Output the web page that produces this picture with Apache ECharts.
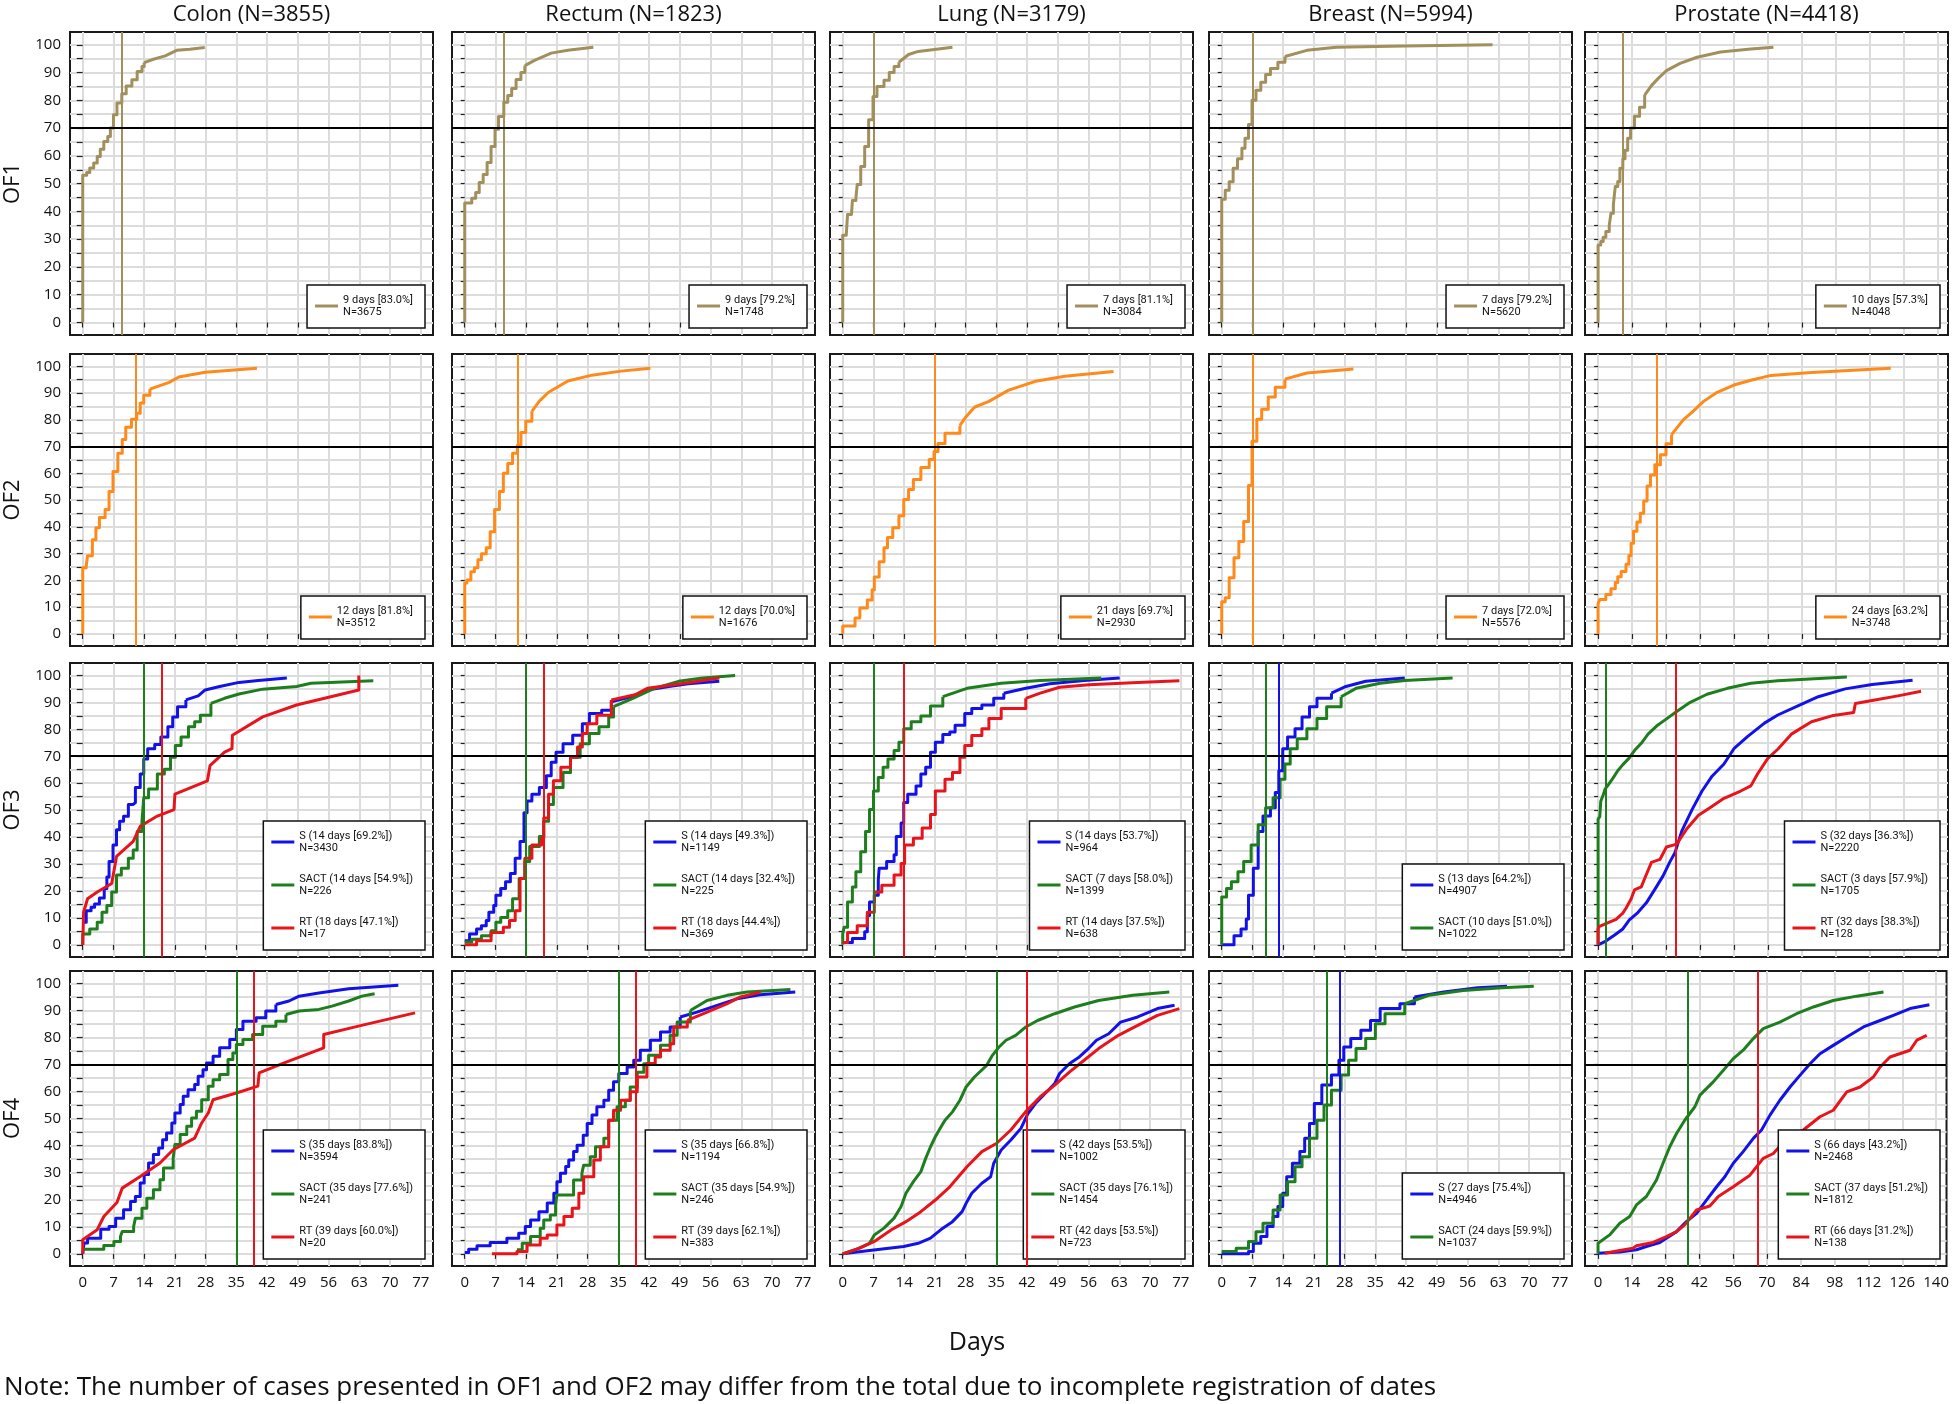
<!DOCTYPE html>
<html><head><meta charset="utf-8">
<script src="https://cdn.jsdelivr.net/npm/echarts@6/dist/echarts.min.js"></script>
<style>html,body{margin:0;padding:0;background:#fff}#c{width:1952px;height:1404px}</style>
</head><body><div id="c"></div>
<script>
// ---------- labels / ticks ----------
const columnTitles = ['Colon (N=3855)', 'Rectum (N=1823)', 'Lung (N=3179)', 'Breast (N=5994)', 'Prostate (N=4418)'];
const rowTitles = ['OF1', 'OF2', 'OF3', 'OF4'];
const xTicksWeeks = [0, 7, 14, 21, 28, 35, 42, 49, 56, 63, 70, 77];
const xTicksProstate = [0, 14, 28, 42, 56, 70, 84, 98, 112, 126, 140];
const yLabelTicks = [0, 10, 20, 30, 40, 50, 60, 70, 80, 90, 100];
const yGridTicks = [0, 5, 10, 15, 20, 25, 30, 35, 40, 45, 50, 55, 60, 65, 70, 75, 80, 85, 90, 95, 100];
const targetPct = 70;
const xAxisTitle = 'Days';
const noteText = 'Note: The number of cases presented in OF1 and OF2 may differ from the total due to incomplete registration of dates';

// ---------- OF1 ----------
const colon_OF1 = [[0,0],[0,53],[0.9,54],[1.6,55.6],[2.5,57.4],[3.3,59.8],[4,62.4],[4.8,65.2],[5.7,67],[6.3,70],[7,74.8],[7.8,79],[8.9,82.4],[9.9,85.2],[11.2,87.4],[12.4,90.4],[13.5,92.2],[14,93.6],[16.1,94.8],[18.8,96],[21.4,98],[24.4,98.4],[27.8,99]];
const rectum_OF1 = [[0,0],[0,43],[1.6,44.7],[2.5,46.8],[3.3,50.4],[4.2,53.3],[5.1,57.6],[6,63.4],[6.9,69.6],[7.7,74.2],[8.9,79.3],[9.8,81.7],[10.7,84.3],[11.7,87.5],[12.8,90],[13.7,92.5],[15.9,94.4],[19.7,97],[23.5,98],[29.3,99.1]];
const lung_OF1 = [[0,0],[0,31.4],[0.8,32],[1.1,38.9],[2,39.6],[2.2,43.9],[3,44.7],[3.3,49.7],[4.1,56.2],[5,63.4],[5.9,73],[6.9,81.4],[7.8,85],[9.4,87.2],[10.6,90],[11.7,92.2],[12.8,93.7],[15,96.5],[17.2,97.6],[25,99.1]];
const breast_OF1 = [[0,0],[0,44.4],[0.8,47.6],[1.7,50.7],[2.6,55.5],[3.6,59],[4.6,62.7],[5.3,66.3],[6.1,71.3],[6.9,80],[7.8,83.6],[8.9,86.5],[10,89.3],[11.1,91.5],[12.8,93.7],[14.4,95.8],[19.4,98],[26.1,99.1],[41.7,99.6],[61.7,100]];
const prostate_OF1 = [[0,0],[0,27.9],[1.1,29.2],[2.1,30.7],[3.2,32.8],[4.6,35],[5.3,39.3],[6.3,42.5],[7.1,49],[8.1,50.8],[9,55.5],[10.2,59],[11.1,62],[12.2,66.3],[13.4,70],[15,74.3],[17.1,77.5],[19.2,81.9],[22,85.3],[24.8,87.9],[28.2,90.7],[33.8,93.3],[40.8,95.5],[50.5,97.4],[63,98.5],[72.3,99.1]];
const OF1_markers = [9, 9, 7, 7, 10];
const OF1_legend = ['9 days [83.0%]\nN=3675', '9 days [79.2%]\nN=1748', '7 days [81.1%]\nN=3084', '7 days [79.2%]\nN=5620', '10 days [57.3%]\nN=4048'];

// ---------- OF2 ----------
const colon_OF2 = [[0,0],[0,24.7],[0.8,25.5],[1.1,29.2],[2.2,35.2],[3,39.7],[3.8,43.5],[5.1,46.5],[6,53.2],[6.9,60.7],[8,67.5],[9,72.7],[9.8,77.2],[11.1,80.2],[12.3,82.5],[13.1,86.3],[13.9,89.2],[15.3,91.5],[19.7,94],[21.9,96],[27.9,97.8],[39.7,99.3]];
const rectum_OF2 = [[0,0],[0,19],[0.5,20.2],[1.4,23.2],[2.2,24.7],[3,27.7],[3.8,30],[4.9,32.2],[5.8,38.2],[6.8,46.5],[7.9,53.2],[8.8,60],[9.8,63.7],[10.9,67.5],[12,70.5],[12.8,75.3],[13.9,79.5],[15.3,83.2],[17,87],[19.1,90.3],[23.5,94.5],[29,96.7],[35.6,98.2],[42.3,99.3]];
const lung_OF2 = [[0,0],[0,3],[2.8,6],[3.9,9.7],[5.6,12.7],[6.7,16.5],[7.2,21.3],[8.3,27],[9.4,32.2],[10.2,36],[11.4,39.7],[12.8,44.2],[13.9,50.2],[15,54],[16.1,57.7],[17.8,62.2],[19.7,65.2],[20.8,68.2],[21.7,71.2],[23.3,75],[26.7,77.9],[28.1,81.2],[30,84.7],[33.3,86.9],[37.8,91.1],[43.9,94.4],[50.6,96.3],[61.7,98.1]];
const breast_OF2 = [[0,0],[0,12],[0.8,13.5],[1.7,21],[2.8,28.5],[3.9,34.5],[5,42],[6.1,55.5],[6.9,72],[8,80.2],[9.1,84],[10.6,88.5],[12.2,92.2],[14.4,95.2],[19.4,97.5],[30,99]];
const prostate_OF2 = [[0,0],[0,11.3],[0.7,12.9],[3.2,14.7],[5.3,16.9],[7.1,19.2],[8.1,21.4],[9.5,23.3],[11.5,26],[12.7,29.3],[13.6,33.9],[14.6,38.4],[16,41.8],[17.4,45.1],[18.8,49.7],[20.2,55.3],[21.6,59.4],[23.4,63.2],[25.7,67],[28,71.1],[30.3,74.5],[35.2,80.1],[38.7,82.8],[43.5,86.9],[49.1,90.3],[56,93],[63,94.8],[71.3,96.6],[88,97.7],[120.7,99.3]];
const OF2_markers = [12, 12, 21, 7, 24];
const OF2_legend = ['12 days [81.8%]\nN=3512', '12 days [70.0%]\nN=1676', '21 days [69.7%]\nN=2930', '7 days [72.0%]\nN=5576', '24 days [63.2%]\nN=3748'];

// ---------- OF3 ----------
const colon_OF3_S = [[0.3,8.4],[0.8,12.7],[1.9,14],[2.7,15.2],[3.8,17.4],[4.9,20.9],[5.5,25.2],[6,30.9],[6.9,37.1],[7.7,42.7],[8.4,45.9],[9.3,47.7],[10.4,52.1],[11.5,52.8],[12,58.4],[13.1,63.4],[13.9,69],[14.8,72.8],[16.4,74.4],[17.8,77.1],[19.4,80.9],[20.5,84.6],[21.6,88.4],[23.5,90.9],[26.3,92.4],[27.9,94.6],[31.2,95.9],[35.6,97.4],[40,98.1],[46.5,99]];
const colon_OF3_SACT = [[0,0],[0,4],[1.6,5.9],[3.3,8.4],[4.4,12.1],[5.5,14.6],[6.6,19.6],[7.7,25.9],[8.8,28.4],[10.4,32.1],[11.5,35.2],[12.4,42.1],[13.5,45.9],[13.9,54.6],[15,57.8],[17,63.4],[18.6,65.2],[20,69.6],[21.1,74],[22.4,77.1],[24.1,80.9],[25.5,82.8],[26.8,85.2],[29.2,89.6],[32.3,91.5],[35.6,93.1],[41,94.9],[48.7,95.9],[52,97.1],[66.2,98]];
const colon_OF3_RT = [[0,0],[0.2,12.1],[1.1,17.1],[3.3,19.6],[6.6,22.8],[7.7,32.8],[11.5,38.4],[13.1,44],[17,47.8],[20.8,50.2],[21,55.9],[28.4,60.9],[29,66.5],[32.3,71.5],[34,72.8],[34.1,77.8],[41,84.6],[48.7,89],[62.9,94.6],[62.9,100]];
const colon_OF3_markers = [14, 14, 18];
const colon_OF3_legend = ['S (14 days [69.2%])\nN=3430', 'SACT (14 days [54.9%])\nN=226', 'RT (18 days [47.1%])\nN=17'];

const rectum_OF3_S = [[0,1.5],[1.1,4],[2.7,5.9],[3.8,7.1],[4.9,9],[5.5,12.1],[6.6,14.6],[7.1,18.4],[8.2,20.9],[9.3,23.4],[10.4,26.5],[11.5,32.1],[12.6,38.4],[13.5,49],[14.2,53.4],[15.3,55.9],[17,58.4],[18.6,62.8],[19.7,67.8],[20.8,71.5],[22.4,74.6],[24.6,77.8],[26.8,82.1],[28.4,85.9],[31.2,87.1],[33.4,90.2],[38.8,92.4],[41.6,94.6],[46.5,95.9],[50.9,96.9],[58,97.8]];
const rectum_OF3_SACT = [[0,1.1],[1.6,2.1],[3.8,3.4],[6,5.2],[7.1,8.4],[8.2,10.2],[9.8,12.7],[10.9,17.1],[12.4,24.6],[13.7,30.9],[14.8,36.5],[17,40.2],[18,45.9],[19.1,52.1],[20.2,58.4],[22.4,64],[24.1,69.6],[26.3,74.6],[28.4,78.4],[30.6,80.9],[32.8,84.6],[33.9,88.4],[38.3,91.5],[43.2,95.2],[48.7,97.8],[54.2,99],[61.6,100]];
const rectum_OF3_RT = [[0,0],[2.7,1.5],[6,4.6],[8.8,6.5],[10.2,9],[11.5,12.7],[12.6,24.6],[13.7,32.1],[15.3,37.1],[17.5,39.6],[18,47.1],[19.1,55.9],[20.2,60.9],[21.9,65.9],[24.1,69.6],[25.7,73.4],[26.8,78.4],[27.9,82.1],[30.1,85.2],[33.4,90.9],[38.8,92.8],[41.6,95.2],[47.6,96.5],[53.1,97.8],[58,99]];
const rectum_OF3_markers = [14, 14, 18];
const rectum_OF3_legend = ['S (14 days [49.3%])\nN=1149', 'SACT (14 days [32.4%])\nN=225', 'RT (18 days [44.4%])\nN=369'];

const lung_OF3_S = [[0,0.9],[2.2,2.4],[5,4.9],[5.6,10.9],[6.1,15.9],[7.2,18.4],[8.1,24],[8.3,28.4],[10,30.9],[11.7,33.4],[12.2,40.2],[13.3,45.2],[13.9,52.8],[14.8,55.9],[16.7,59],[17.8,63.4],[18.9,65.9],[20,71.5],[21.1,75.2],[22.8,78.1],[24.4,79],[25.6,81.5],[27.8,85.9],[29.4,87.7],[31.7,89],[34.4,91.5],[36.7,93.4],[41.7,95.2],[47.2,96.9],[55,98.1],[63.1,99]];
const lung_OF3_SACT = [[0,0],[0,4],[0.3,6.5],[1.1,15.9],[2.2,21.5],[3,27.1],[4.1,34.6],[5.2,42.1],[6.1,50.2],[7,57.1],[8.1,62.1],[9.2,65.9],[10.3,69],[11.7,72.1],[12.8,75.2],[13.9,80.2],[15.6,82.8],[17.8,84.9],[20,88.6],[22.8,92.1],[28.3,95.2],[36.1,97.1],[45,98.1],[58.9,99]];
const lung_OF3_RT = [[0,0.9],[1.1,4.6],[3.3,7.1],[5.6,12.1],[7.2,19.6],[8.9,22.1],[11.7,25.9],[13.3,30.2],[14.1,37.1],[16.1,39.6],[18.1,43.4],[20,48.4],[21.1,57.1],[23.3,61.5],[25,64],[26.7,69.6],[27.8,74],[29.4,77.7],[31.7,80.2],[33.3,84],[36.1,87.7],[41.7,91.5],[45,93.4],[49.4,95.6],[56.1,96.5],[67.2,97.4],[76.7,98]];
const lung_OF3_markers = [14, 7, 14];
const lung_OF3_legend = ['S (14 days [53.7%])\nN=964', 'SACT (7 days [58.0%])\nN=1399', 'RT (14 days [37.5%])\nN=638'];

const breast_OF3_S = [[0,0],[2.8,3.4],[4.4,5.9],[5.6,9.6],[6.1,18.4],[7.2,28.4],[8.3,42.1],[9.4,47.8],[11.1,50.9],[12.2,56.5],[13,64.6],[13.9,72.8],[15,77.1],[16.7,80.2],[18.3,84.6],[20,88.4],[21.7,91.5],[25,93.4],[28.3,95.9],[32.8,97.8],[41.7,99]];
const breast_OF3_SACT = [[0,0],[0,17.8],[1.1,20.9],[2.2,23.4],[3.7,27.1],[5,30.9],[6.7,37.1],[8.3,44.6],[10,50.9],[11.7,54.6],[13.3,61.5],[14.4,67.1],[15.6,72.8],[17.2,76.5],[19.4,80.2],[21.7,84],[23.9,88.4],[27.2,92.1],[30.6,95.2],[36.1,97.1],[41.7,98.1],[52.6,99]];
const breast_OF3_markers = [13, 10];
const breast_OF3_legend = ['S (13 days [64.2%])\nN=4907', 'SACT (10 days [51.0%])\nN=1022'];

const prostate_OF3_S = [[0,0],[3.2,1.4],[6.7,3.6],[10.2,5.9],[12.9,9.3],[16.4,12],[19.9,15.6],[23.4,20.6],[26.8,25.6],[29.6,30.8],[31.7,34.2],[34.5,42.2],[38.7,50.1],[42.8,57],[47,62.6],[51.9,67.1],[56,72.8],[61.6,77.3],[68.6,82.3],[74.1,85.3],[82.4,88.7],[90.8,92.1],[101.9,95],[113,96.6],[129.7,98.2]];
const prostate_OF3_SACT = [[0,0],[0,46.7],[0.7,47.6],[1.1,53.3],[2.1,55.6],[2.9,57.9],[3.9,59],[6,61.7],[8.1,64.6],[10.2,66.9],[12.7,69.2],[15,72.1],[17.8,74.8],[20.6,78.2],[24.1,81.2],[27.5,83.4],[32.4,86.6],[38,90],[44.9,93],[53.3,95.2],[63,97.1],[74.1,98],[102.6,99.4]];
const prostate_OF3_RT = [[0,0],[0,5.9],[0.4,6.8],[3.2,7.9],[7.4,9.5],[10.2,11.8],[11.5,13.6],[13.6,17],[15,20.4],[17.8,21.5],[19.9,26.1],[22,30.6],[25.5,31.7],[28.2,36.3],[32.4,37.4],[36.6,43.1],[41.4,48.1],[46.3,51],[51.9,54.4],[58.8,57.1],[63,59],[65.8,63.5],[70,69.2],[74.1,72.6],[79.7,78.2],[88,82.8],[96.4,85],[105.4,86.2],[106.1,89.6],[113,90.7],[124.2,92.5],[133.2,94.1]];
const prostate_OF3_markers = [32, 3, 32];
const prostate_OF3_legend = ['S (32 days [36.3%])\nN=2220', 'SACT (3 days [57.9%])\nN=1705', 'RT (32 days [38.3%])\nN=128'];

// ---------- OF4 ----------
const colon_OF4_S = [[0,0],[0.3,4],[1.1,5.8],[4.1,9.1],[6,10.1],[7.5,13.2],[9.3,16.3],[10.9,19.4],[12,21.2],[13.1,26.2],[14,29.3],[15,33.6],[16.1,36.7],[17.3,39.1],[18.2,42.2],[19.1,44.7],[20.3,48.4],[21,52.1],[22.2,55.2],[22.9,58.3],[24,60.7],[25.5,62.6],[26.3,65.7],[27.4,68.1],[28.2,70.6],[29.7,73.1],[31.2,76.2],[33.5,79.3],[35,83],[36.5,86],[39.5,87.3],[41.7,89.8],[44,92.2],[47,93.5],[49.3,95.3],[53.8,96.5],[60.6,98],[71.9,99.3]];
const colon_OF4_SACT = [[0,1.7],[4.8,3.1],[7.1,4.6],[8.6,6.4],[9,8.3],[11.6,10.1],[12,13.2],[13.5,16.9],[14.6,20.6],[16.1,23.7],[17.6,27.4],[18.4,31.7],[20.6,35.4],[21,40.4],[22.2,44.1],[23.7,47.2],[24.8,50.2],[25.9,52.7],[27.1,57],[28.6,62],[29.7,64.4],[31.2,66.3],[33.1,71.9],[34.2,74.3],[35,77.4],[36.5,79.3],[38.7,81.1],[41,84.2],[44,86],[46.3,88.5],[49.3,89.8],[53.8,90.4],[56.8,91.6],[60.6,93.5],[63.6,95.3],[66.5,96.2]];
const colon_OF4_RT = [[0,0],[0,5.2],[3.3,8.9],[4.8,13.8],[7.8,19],[9,24.3],[13.1,28.6],[17.6,33.6],[20.6,38.5],[25.5,42.8],[27.1,48.4],[28.6,52.1],[29.7,57],[35,59.5],[39.9,62],[40.2,66.9],[45.9,70.6],[54.9,76.2],[54.9,81.1],[62.8,84.2],[75.7,89.1]];
const colon_OF4_markers = [35, 35, 39];
const colon_OF4_legend = ['S (35 days [83.8%])\nN=3594', 'SACT (35 days [77.6%])\nN=241', 'RT (39 days [60.0%])\nN=20'];

const rectum_OF4_S = [[0,0.5],[0.9,1.7],[2.8,3],[5.8,4.2],[9.6,5.8],[12.3,7.6],[13.8,10.1],[15,12.5],[16.9,15.6],[18.8,18.8],[20.3,22.4],[21,26.7],[21.8,29.8],[23,32.3],[23.7,34.7],[24.8,37.8],[25.6,40.2],[27,43.9],[27.9,48.2],[29,51.3],[30.1,54.4],[31.7,56.8],[32.8,60.5],[33.9,63.6],[35.1,66.7],[37,69.1],[38.5,71.6],[40,75.3],[42.3,79],[44.6,82],[46.8,83.9],[49.1,87.6],[52.9,89.4],[57.5,91.9],[62,94.3],[67.3,95.8],[75.3,96.8]];
const rectum_OF4_SACT = [[11.9,1.5],[13.1,3.9],[15,6.4],[17.2,9.5],[18,12.5],[19.5,14.4],[20.7,18.1],[21,21.8],[24.8,27.3],[26.7,29.8],[27.1,32.8],[28.6,35.9],[29.8,39.6],[31.7,42.7],[32.8,49.4],[34.7,54.4],[36.6,56.8],[37.7,61.7],[39.3,67.2],[40.8,70.3],[41.9,73.4],[44.6,77.1],[46.8,80.8],[48.4,85.7],[51.4,90],[55.2,93.7],[59.8,95.6],[64.3,96.8],[74.2,97.8]];
const rectum_OF4_RT = [[6.2,0],[11.9,0.9],[14.2,3.3],[17.2,5.8],[18.8,7],[21,10.7],[22.6,13.8],[24.5,16.9],[26,22.4],[27.1,28.5],[29.4,34.7],[30.9,39.6],[32.8,49.4],[33.9,53.1],[35.5,56.8],[37.7,59.9],[39.3,65.4],[41.5,70.4],[43.4,72.8],[44.6,75.3],[46.8,77.7],[47.6,83.9],[50.7,86.3],[55.2,89.4],[59.8,92.5],[62.8,95],[67.4,96.8]];
const rectum_OF4_markers = [35, 35, 39];
const rectum_OF4_legend = ['S (35 days [66.8%])\nN=1194', 'SACT (35 days [54.9%])\nN=246', 'RT (39 days [62.1%])\nN=383'];

const lung_OF4_S = [[0,0],[6.1,1.2],[13.9,2.7],[17.2,3.9],[20,5.8],[22.8,9.5],[25,11.9],[27.2,15.6],[28.3,19.3],[29.4,22.4],[31.7,26.1],[33.7,28.5],[34.4,33.5],[36.1,38.4],[38.3,42.1],[40.6,46.4],[42.2,51.9],[43.9,55.6],[46.1,59.3],[48.3,63],[49.4,66.7],[51.7,70.4],[53.9,72.8],[55.6,75.3],[57.8,79],[60.6,81.4],[63.3,85.7],[67.2,87.6],[71.7,90.7],[75.6,91.9]];
const lung_OF4_SACT = [[0,0],[2.8,1.5],[6.1,3.9],[7.2,7],[9.4,9.5],[11.7,13.2],[13.3,17.5],[14.4,22.4],[16.1,26.7],[17.8,30.4],[18.9,35.3],[20,39.6],[21.1,43.3],[22.2,46.4],[23.3,49.4],[25,52.5],[26.7,56.8],[28.1,61.7],[30,65.4],[32.8,69.7],[34.1,73.4],[35.6,76.5],[37.2,79],[39.4,80.8],[41.7,83.9],[44.4,86.3],[48.3,88.8],[52.8,91.3],[58.3,93.7],[66.1,95.6],[74.4,96.8]];
const lung_OF4_RT = [[0,0],[3.9,2.1],[7.2,4.6],[11.1,8.9],[14.4,11.9],[17.8,15.6],[21.1,19.9],[24.4,24.8],[28.3,32.2],[31.7,37.8],[35,40.8],[38.3,45.8],[41.7,52.6],[45,58.1],[48.3,62.4],[51.7,67.3],[55,71.6],[58.3,75.9],[62.8,80.8],[67.2,84.5],[71.7,88.2],[76.7,90.7]];
const lung_OF4_markers = [42, 35, 42];
const lung_OF4_legend = ['S (42 days [53.5%])\nN=1002', 'SACT (35 days [76.1%])\nN=1454', 'RT (42 days [53.5%])\nN=723'];

const breast_OF4_S = [[0,0],[6.1,0.9],[7.2,3.9],[8.9,6.4],[10.3,10.1],[11.7,13.8],[12.8,17.5],[13.9,22.4],[14.8,28.5],[16.1,33.5],[17.8,37.8],[18.9,42.7],[20,48.2],[21.1,55.6],[22.8,62.4],[25,66.1],[26.7,71.6],[27.8,76.5],[29.4,79.6],[31.7,82.7],[33.9,86.3],[36.1,90.7],[40.6,92.5],[43.9,95],[50.6,96.8],[58.3,98.4],[65,99]];
const breast_OF4_SACT = [[0,0.9],[3.3,2.1],[6.1,4.6],[7.8,8.2],[9.4,11.3],[11.7,16.2],[13.3,21.8],[15,26.7],[16.7,32.2],[18.3,35.9],[20,42.7],[21.7,49.4],[23.3,55],[25,60.5],[27.2,66.1],[28.9,71.6],[30.6,75.9],[32.8,79.6],[35,85.1],[37.2,88.8],[41.7,92.5],[47.2,95.6],[55,97.4],[63.9,98.4],[71.1,99]];
const breast_OF4_markers = [27, 24];
const breast_OF4_legend = ['S (27 days [75.4%])\nN=4946', 'SACT (24 days [59.9%])\nN=1037'];

const prostate_OF4_S = [[0,0.2],[9,0.7],[15.9,1.5],[20,2.7],[25.6,4.2],[28.3,5.8],[32.5,8.2],[36.6,11.9],[40.8,15],[44.9,19.9],[49.1,24.8],[52.5,28.5],[56,33.5],[60.1,37.8],[64.3,42.7],[67.7,45.8],[71.2,51.3],[75.3,56.8],[79.5,61.7],[83.6,66],[87.8,70.3],[91.9,74],[97.4,77.1],[103,80.2],[109.9,83.9],[116.8,86.3],[122.3,88.2],[129.2,90.7],[137.2,92.1]];
const prostate_OF4_SACT = [[0,0],[0,3.9],[4.8,7],[9,11.3],[13.1,13.8],[15.9,18.1],[20,21.2],[24.2,27.3],[26.9,33.5],[29.7,39.6],[32.5,44.5],[35.9,49.4],[40.1,54.4],[42.2,58.7],[47.7,63.6],[51.9,67.9],[56,72.2],[60.1,75.3],[64.3,79.6],[68.4,83.3],[75.3,85.7],[82.2,88.8],[89.2,91.3],[97.4,93.7],[107.1,95.3],[118.2,96.8]];
const prostate_OF4_RT = [[2.8,0.2],[9,1.2],[14.5,2.1],[15.9,3],[22.8,4.2],[28.3,6.4],[32.5,8.2],[35.9,10.7],[40.8,16.2],[46.3,17.7],[49.8,21.2],[56,24.8],[62.9,29.1],[68.4,35.3],[72.6,37.1],[78.1,42.7],[85,45.8],[91.9,50.7],[97.4,53.1],[103,59.9],[108.5,61.7],[114,65.4],[116.8,69.1],[120.9,72.8],[129.2,75.3],[132,79],[136.1,80.8]];
const prostate_OF4_markers = [66, 37, 66];
const prostate_OF4_legend = ['S (66 days [43.2%])\nN=2468', 'SACT (37 days [51.2%])\nN=1812', 'RT (66 days [31.2%])\nN=138'];

// ---------- assembly ----------
const COLORS = { OF1: '#A28F5C', OF2: '#FF8A1C', S: '#1212E8', SACT: '#1E7E1E', RT: '#E8141C' };
const W = 1952, H = 1404;
const colLeft = [70, 452, 830, 1209, 1585];
const plotW = 363;
const rowTop = [32, 354, 663, 971];
const rowH = [303, 292, 294, 295];
const Y_MIN = -4.5, Y_MAX = 104.6;
const FONT = 'Open Sans';

const names = ['colon', 'rectum', 'lung', 'breast', 'prostate'];
const of1 = [colon_OF1, rectum_OF1, lung_OF1, breast_OF1, prostate_OF1];
const of2 = [colon_OF2, rectum_OF2, lung_OF2, breast_OF2, prostate_OF2];
const of3 = [
  [[colon_OF3_S, colon_OF3_SACT, colon_OF3_RT], colon_OF3_markers, colon_OF3_legend],
  [[rectum_OF3_S, rectum_OF3_SACT, rectum_OF3_RT], rectum_OF3_markers, rectum_OF3_legend],
  [[lung_OF3_S, lung_OF3_SACT, lung_OF3_RT], lung_OF3_markers, lung_OF3_legend],
  [[breast_OF3_S, breast_OF3_SACT], breast_OF3_markers, breast_OF3_legend],
  [[prostate_OF3_S, prostate_OF3_SACT, prostate_OF3_RT], prostate_OF3_markers, prostate_OF3_legend]
];
const of4 = [
  [[colon_OF4_S, colon_OF4_SACT, colon_OF4_RT], colon_OF4_markers, colon_OF4_legend],
  [[rectum_OF4_S, rectum_OF4_SACT, rectum_OF4_RT], rectum_OF4_markers, rectum_OF4_legend],
  [[lung_OF4_S, lung_OF4_SACT, lung_OF4_RT], lung_OF4_markers, lung_OF4_legend],
  [[breast_OF4_S, breast_OF4_SACT], breast_OF4_markers, breast_OF4_legend],
  [[prostate_OF4_S, prostate_OF4_SACT, prostate_OF4_RT], prostate_OF4_markers, prostate_OF4_legend]
];
// rendering style: day-steps are drawn up to this x, straight segments after it (absent = steps throughout; 0 = no steps)
const stepUntil = {
  colon_OF1: 14, rectum_OF1: 13.7, lung_OF1: 12.8, breast_OF1: 14.4, prostate_OF1: 19.2,
  colon_OF2: 15.3, rectum_OF2: 15.3, lung_OF2: 26.7, breast_OF2: 14.4, prostate_OF2: 30.3,
  colon_OF3_S: 23.5, colon_OF3_SACT: 29.2, colon_OF3_RT: 0,
  rectum_OF3_S: 33.4, rectum_OF3_SACT: 33.9, rectum_OF3_RT: 33.4,
  lung_OF3_S: 36.7, lung_OF3_SACT: 22.8, lung_OF3_RT: 41.7,
  breast_OF3_S: 25, breast_OF3_SACT: 27.2,
  prostate_OF3_S: 0, prostate_OF3_SACT: 0, prostate_OF3_RT: 0,
  colon_OF4_S: 44, colon_OF4_SACT: 46.3, colon_OF4_RT: 0,
  rectum_OF4_S: 49.1, rectum_OF4_SACT: 51.4, rectum_OF4_RT: 50.7,
  lung_OF4_S: 0, lung_OF4_SACT: 0, lung_OF4_RT: 0,
  breast_OF4_S: 43.9, breast_OF4_SACT: 41.7,
  prostate_OF4_S: 0, prostate_OF4_SACT: 0, prostate_OF4_RT: 0
};

const panels = [];
for (let c = 0; c < 5; c++) {
  panels.push({ r: 0, c, curves: [{ id: names[c] + '_OF1', data: of1[c], kind: 'OF1', marker: OF1_markers[c], label: OF1_legend[c] }] });
}
for (let c = 0; c < 5; c++) {
  panels.push({ r: 1, c, curves: [{ id: names[c] + '_OF2', data: of2[c], kind: 'OF2', marker: OF2_markers[c], label: OF2_legend[c] }] });
}
[of3, of4].forEach((set, k) => {
  const kinds = ['S', 'SACT', 'RT'];
  for (let c = 0; c < 5; c++) {
    const [curves, markers, legends] = set[c];
    panels.push({ r: 2 + k, c, curves: curves.map((d, i) => ({ id: names[c] + '_OF' + (3 + k) + '_' + kinds[i], data: d, kind: kinds[i], marker: markers[i], label: legends[i] })) });
  }
});

const labelMap = {};
const grid = [], xAxis = [], yAxis = [], series = [], legend = [];
panels.forEach((p, gi) => {
  const left = colLeft[p.c], top = rowTop[p.r], h = rowH[p.r];
  const isProstate = p.c === 4;
  const xt = isProstate ? xTicksProstate : xTicksWeeks;
  grid.push({ left, top, width: plotW, height: h, show: true, borderColor: '#1a1a1a', borderWidth: 2, backgroundColor: 'transparent', containLabel: false });
  xAxis.push({
    type: 'value', gridIndex: gi, min: isProstate ? -5.4 : -2.9, max: isProstate ? 144.3 : 79.8,
    axisLine: { show: false },
    axisTick: { show: true, customValues: xt, length: 5, lineStyle: { color: '#222', width: 1.2 } },
    axisLabel: { show: p.r === 3, customValues: xt, fontSize: 15, color: '#111', margin: 9, fontFamily: FONT },
    splitLine: { show: true, lineStyle: { color: '#DCDCDC', width: 2 } }
  });
  yAxis.push({
    type: 'value', gridIndex: gi, min: Y_MIN, max: Y_MAX,
    axisLine: { show: false },
    axisTick: { show: true, customValues: yGridTicks, length: p.c === 0 ? 6 : 4, lineStyle: { color: '#222', width: 1.2 } },
    axisLabel: { show: p.c === 0, customValues: yLabelTicks, fontSize: 15, color: '#111', margin: 9, fontFamily: FONT },
    splitLine: { show: true, lineStyle: { color: '#DCDCDC', width: 2 } }
  });
  p.curves.forEach((cv, i) => {
    labelMap[cv.id] = cv.label;
    const color = COLORS[cv.kind];
    const mlData = [{ xAxis: cv.marker, lineStyle: { color, width: 2, type: 'solid' } }];
    if (i === 0) mlData.push({ yAxis: targetPct, lineStyle: { color: '#000', width: 2, type: 'solid' } });
    const lim = (cv.id in stepUntil) ? stepUntil[cv.id] : Infinity;
    let cut = cv.data.length - 1;
    if (lim !== Infinity) {
      cut = 0;
      for (let j = 0; j < cv.data.length; j++) { if (cv.data[j][0] <= lim) cut = j; else break; }
      if (lim === 0) cut = 0;
    }
    const parts = [];
    if (cut > 0) parts.push({ d: cv.data.slice(0, cut + 1), step: 'end' });
    if (cut < cv.data.length - 1) parts.push({ d: cv.data.slice(cut), step: false });
    parts.forEach((pt, k) => {
      const s = {
        type: 'line', name: cv.id, xAxisIndex: gi, yAxisIndex: gi, data: pt.d,
        step: pt.step,
        symbol: 'none', showSymbol: false, silent: true, animation: false,
        lineStyle: { color, width: 3, join: 'round' }, itemStyle: { color },
        emphasis: { disabled: true }
      };
      if (k === 0) s.markLine = { silent: true, symbol: ['none', 'none'], label: { show: false }, animation: false, data: mlData };
      series.push(s);
    });
  });
  legend.push({
    data: p.curves.map(cv => cv.id),
    formatter: name => labelMap[name],
    orient: 'vertical',
    right: W - (left + plotW - 8),
    bottom: H - (top + h - 7),
    backgroundColor: '#fff', borderColor: '#111', borderWidth: 1.5,
    padding: [9, 12, 10, 8], itemGap: 19,
    icon: 'rect', itemWidth: 23, itemHeight: 3,
    selectedMode: false,
    textStyle: { fontSize: 11, lineHeight: 12, color: '#111', fontFamily: 'Roboto' }
  });
});

const graphic = [];
columnTitles.forEach((t, c) => {
  graphic.push({ type: 'text', x: colLeft[c] + plotW / 2, y: 15,
    style: { text: t, fontSize: 22, fontFamily: FONT, fill: '#111', textAlign: 'center', align: 'center', textVerticalAlign: 'middle', verticalAlign: 'middle' } });
});
rowTitles.forEach((t, r) => {
  graphic.push({ type: 'text', x: 13, y: rowTop[r] + rowH[r] / 2, rotation: Math.PI / 2,
    style: { text: t, fontSize: 22, fontFamily: FONT, fill: '#111', textAlign: 'center', align: 'center', textVerticalAlign: 'middle', verticalAlign: 'middle' } });
});
graphic.push({ type: 'text', x: 977, y: 1343,
  style: { text: xAxisTitle, fontSize: 25, fontFamily: FONT, fill: '#111', textAlign: 'center', align: 'center', textVerticalAlign: 'middle', verticalAlign: 'middle' } });
graphic.push({ type: 'text', x: 4, y: 1388,
  style: { text: noteText, fontSize: 26, fontFamily: FONT, fill: '#111', textAlign: 'left', align: 'left', textVerticalAlign: 'middle', verticalAlign: 'middle' } });

const chart = echarts.init(document.getElementById('c'), null, { renderer: 'canvas' });
chart.setOption({ animation: false, backgroundColor: '#fff', grid, xAxis, yAxis, series, legend, graphic });
</script></body></html>
